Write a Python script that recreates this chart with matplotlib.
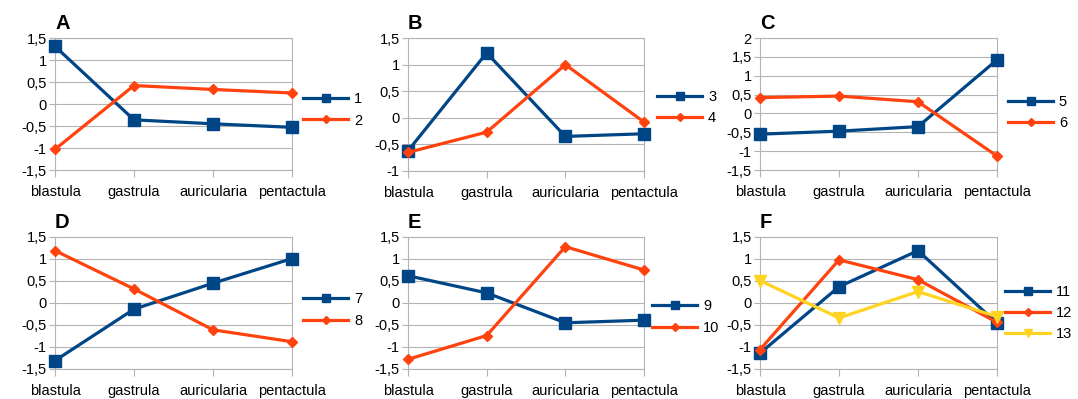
import matplotlib
matplotlib.use('Agg')
import matplotlib.pyplot as plt

plt.rcParams['font.family'] = ['Liberation Sans', 'DejaVu Sans']

STAGES = ['blastula', 'gastrula', 'auricularia', 'pentactula']

# profile values, one list per cluster
s1 = [1.31, -0.36, -0.45, -0.53]
s2 = [-1.03, 0.42, 0.33, 0.25]
s3 = [-0.62, 1.22, -0.35, -0.30]
s4 = [-0.65, -0.27, 1.0, -0.08]
s5 = [-0.55, -0.47, -0.35, 1.42]
s6 = [0.42, 0.46, 0.31, -1.13]
s7 = [-1.31, -0.14, 0.45, 1.01]
s8 = [1.19, 0.32, -0.61, -0.88]
s9 = [0.62, 0.23, -0.45, -0.39]
s10 = [-1.28, -0.74, 1.28, 0.75]
s11 = [-1.14, 0.37, 1.19, -0.46]
s12 = [-1.06, 0.98, 0.53, -0.44]
s13 = [0.51, -0.34, 0.26, -0.31]

BLUE = '#004586'
ORANGE = '#ff420e'
YELLOW = '#ffd320'
GRID = '#b3b3b3'

STYLE = {
    'blue': dict(color=BLUE, marker='s', markersize=9),
    'orange': dict(color=ORANGE, marker='D', markersize=5.5),
    'yellow': dict(color=YELLOW, marker='v', markersize=8.5),
}

# panel: letter, (left, top, right, bottom) px, y-range, series, legend anchor
PANELS = [
    ('A', (55, 38, 292, 170), (-1.5, 1.5), [('1', s1, 'blue'), ('2', s2, 'orange')], (1.046, 0.455)),
    ('B', (408, 38, 644, 171), (-1.0, 1.5), [('3', s3, 'blue'), ('4', s4, 'orange')], (1.055, 0.477)),
    ('C', (760, 38, 997, 170), (-1.5, 2.0), [('5', s5, 'blue'), ('6', s6, 'orange')], (1.046, 0.436)),
    ('D', (55, 237, 292, 369), (-1.5, 1.5), [('7', s7, 'blue'), ('8', s8, 'orange')], (1.046, 0.447)),
    ('E', (408, 237, 644, 369), (-1.5, 1.5), [('9', s9, 'blue'), ('10', s10, 'orange')], (1.034, 0.394)),
    ('F', (760, 237, 997, 369), (-1.5, 1.5),
     [('11', s11, 'blue'), ('12', s12, 'orange'), ('13', s13, 'yellow')], (1.034, 0.424)),
]

W, H = 1078, 399
fig = plt.figure(figsize=(W / 100, H / 100), dpi=100)

for letter, (l, t, r, b), (ymin, ymax), series, anchor in PANELS:
    ax = fig.add_axes([l / W, 1 - b / H, (r - l) / W, (b - t) / H])
    x = range(len(STAGES))
    for name, vals, kind in series:
        ax.plot(x, vals, label=name, linewidth=2.3, zorder=3, clip_on=False,
                **STYLE[kind])

    ax.set_xlim(0, len(STAGES) - 1)
    ax.set_ylim(ymin, ymax)
    ticks = []
    v = ymin
    while v <= ymax + 1e-9:
        ticks.append(v)
        v += 0.5
    ax.set_yticks(ticks)
    ax.set_yticklabels([('%g' % tk).replace('.', ',') for tk in ticks])
    ax.set_xticks(list(x))
    ax.set_xticklabels(STAGES)

    ax.grid(axis='y', color=GRID, linewidth=0.8)
    ax.set_axisbelow(True)
    for sp in ax.spines.values():
        sp.set_color(GRID)
        sp.set_linewidth(0.8)
    ax.tick_params(axis='x', length=5, color=GRID, labelsize=10.5, pad=6)
    ax.tick_params(axis='y', length=4, color=GRID, labelsize=10.5, pad=2)

    ax.text(0.0, 1.04, letter, transform=ax.transAxes, fontsize=14.5,
            fontweight='bold', ha='left', va='bottom')

    ax.legend(loc='center left', bbox_to_anchor=anchor, frameon=False,
              fontsize=10.5, handlelength=3.1, handletextpad=0.4,
              labelspacing=0.5, borderpad=0, borderaxespad=0,
              numpoints=1, markerscale=0.7)

fig.savefig('out.png', dpi=100)
